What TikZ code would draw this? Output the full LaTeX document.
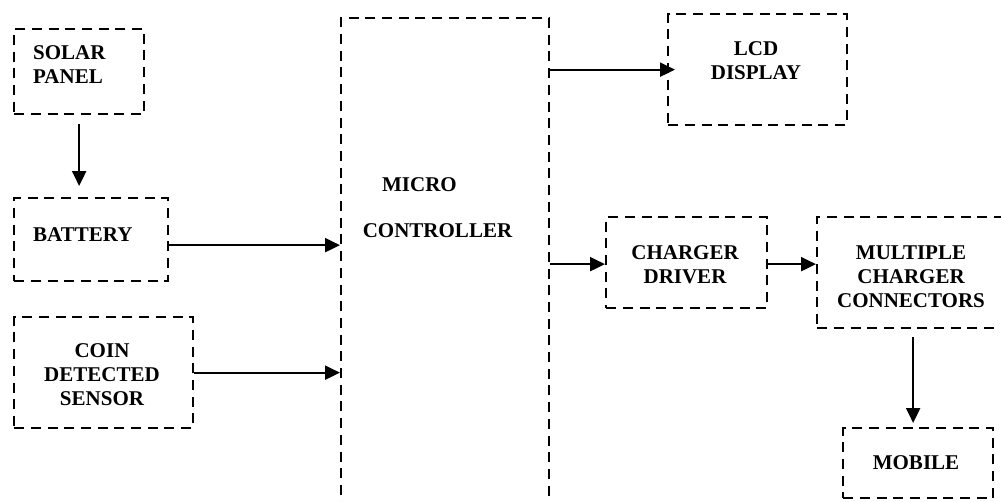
\documentclass[tikz,border=0pt]{standalone}
\usepackage{fontspec}
\setmainfont{Liberation Serif}
\usetikzlibrary{arrows.meta}
\tikzset{
  blk/.style={draw, line width=2.3pt, dash pattern=on 10pt off 6.7pt, rectangle, inner sep=0pt, anchor=north west},
  lbl/.style={font=\fontsize{21}{24}\selectfont\bfseries, inner sep=0pt},
  arr/.style={line width=2.2pt, -{Triangle[length=15pt,width=14pt]}}
}
\begin{document}
\begin{tikzpicture}[x=1pt,y=-1pt]
\useasboundingbox (0,0) rectangle (1001,501);
% boxes
\node[blk, minimum width=130pt, minimum height=85pt] (solar) at (13,28) {};
\node[blk, minimum width=154pt, minimum height=83pt] (battery) at (13,197) {};
\node[blk, minimum width=179pt, minimum height=111pt] (coin) at (13,316) {};
\node[blk, minimum width=208pt, minimum height=520pt] (micro) at (340,17) {};
\node[blk, minimum width=179pt, minimum height=111pt] (lcd) at (667,13) {};
\node[blk, minimum width=161pt, minimum height=91pt] (driver) at (605,216) {};
\node[blk, minimum width=230pt, minimum height=111pt] (multi) at (816,216) {};
\node[blk, minimum width=150pt, minimum height=70pt] (mobile) at (842,427) {};
% labels
\node[lbl, align=left, anchor=west] (tsolar) at (33,64.5) {SOLAR\\PANEL};
\node[lbl, anchor=west] (tbattery) at (33,235) {BATTERY};
\node[lbl, align=center] (tcoin) at (102,375) {COIN\\DETECTED\\SENSOR};
\node[lbl] (tmicro) at (419.5,185) {MICRO};
\node[lbl] (tcontroller) at (437.5,231) {CONTROLLER};
\node[lbl, align=center] (tlcd) at (756,60.5) {LCD\\DISPLAY};
\node[lbl, align=center] (tdriver) at (685,264.5) {CHARGER\\DRIVER};
\node[lbl, align=center] (tmulti) at (911,276.5) {MULTIPLE\\CHARGER\\CONNECTORS};
\node[lbl] (tmobile) at (916,463) {MOBILE};
% connectors
\draw[arr, shorten <=9pt, shorten >=11pt] (solar.south) -- (solar.south |- battery.north);
\draw[arr] ([yshift=-5.5pt]battery.east) -- ([yshift=-5.5pt]battery.east -| micro.west);
\draw[arr] (coin.east) -- (coin.east -| micro.west);
\draw[arr, shorten >=-8pt] (lcd.west -| micro.east) -- (lcd.west);
\draw[arr] ([yshift=-1.5pt]driver.west -| micro.east) -- ([yshift=-1.5pt]driver.west);
\draw[arr] ([yshift=-1.5pt]driver.east) -- ([yshift=-1.5pt]driver.east -| multi.west);
\draw[arr, shorten <=8pt, shorten >=4pt] ([xshift=-5pt]mobile.north |- multi.south) -- ([xshift=-5pt]mobile.north);
\end{tikzpicture}
\end{document}
